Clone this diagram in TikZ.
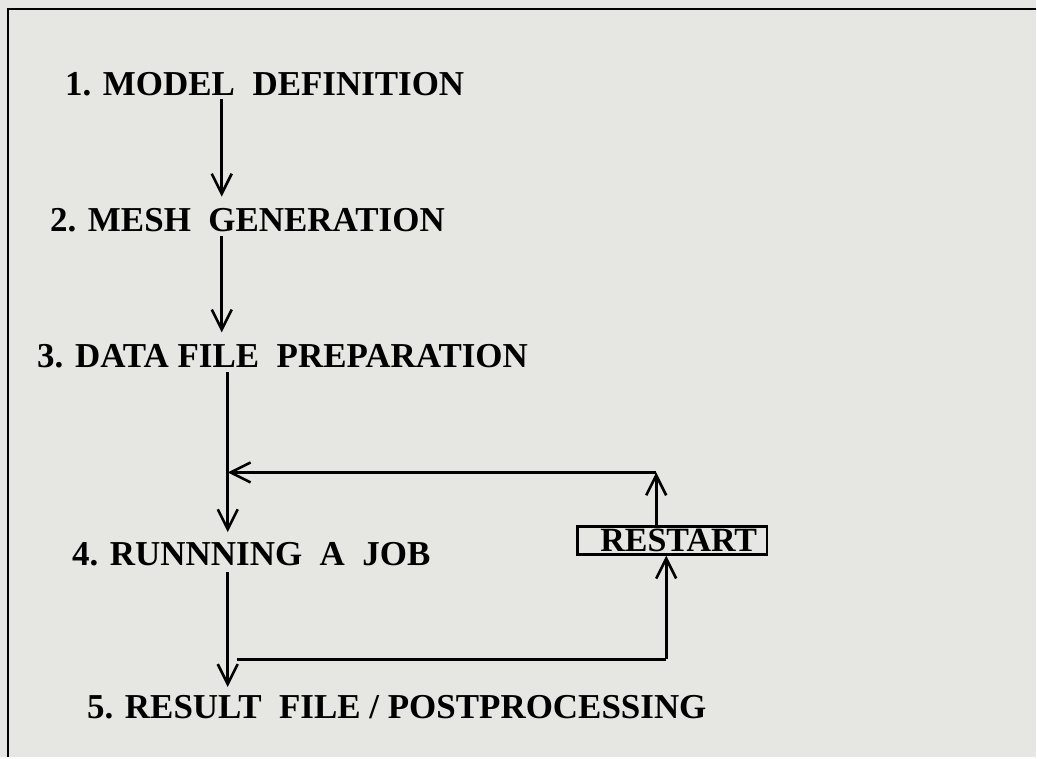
\documentclass[tikz,border=0pt]{standalone}
\usepackage{fontspec}
\setmainfont{Liberation Serif}
\usetikzlibrary{arrows.meta,calc}
\definecolor{paper}{HTML}{E6E6E3}

\begin{document}
\begin{tikzpicture}[x=1pt,y=-1pt,
		stage/.style={anchor=base west,inner sep=0pt,text height=23pt,text depth=0pt,font=\fontsize{35}{38}\selectfont\bfseries},
		flow/.style={line width=2.6pt,-{Straight Barb[length=20pt,width=20pt]}},
		link/.style={line width=2.6pt}]
		\fill[paper] (0,0) rectangle (1037,758);
		\draw[line width=2.5pt] (8,758) -- (8,9) -- (1037,9);
		\draw[color=black]
		node[stage] (m1) at (65,96){1. MODEL\ \ DEFINITION}
		node[stage] (m2) at (50,232){2. MESH\ \ GENERATION}
		node[stage] (m3) at (37,368){3. DATA FILE\ \ PREPARATION}
		node[stage] (m4) at (72,566){4. RUNNNING\ \ A\ \ JOB}
		node[stage] (m5) at (87,719){5. RESULT\ \ FILE / POSTPROCESSING}
		node[draw,line width=2.6pt,inner xsep=10pt,inner ysep=3pt,text height=22pt,text depth=0pt,font=\fontsize{34}{38}\selectfont\bfseries] (restart) at (673,541){\hspace{13pt}RESTART};
		% spine and loop points
		\coordinate (s1) at (222,0);
		\coordinate (s3) at (228,0);
		\coordinate (tl) at (657,473);
		\coordinate (jl) at (228,473);
		\coordinate (bl) at (237,660);
		\coordinate (br) at (667,660);
		\draw [flow] ($(m1.south -| s1)+(0,3)$) -- ($(m2.north -| s1)+(0,-12)$);
		\draw [flow] ($(m2.south -| s1)+(0,4)$) -- ($(m3.north -| s1)+(0,-12)$);
		\draw [flow] ($(m3.south -| s3)+(0,4)$) -- ($(m4.north -| s3)+(0,-10)$);
			\draw [flow] (restart.north -| tl) -- (tl);
			\draw [flow] (tl) -- (jl);
		\draw [flow] ($(m4.south -| s3)+(0,6)$) -- ($(m5.north -| s3)+(0,-8)$);
			\draw [link] (bl) -- (br);
			\draw [flow] (br) -- (restart.south -| br);
\end{tikzpicture}
\end{document}
